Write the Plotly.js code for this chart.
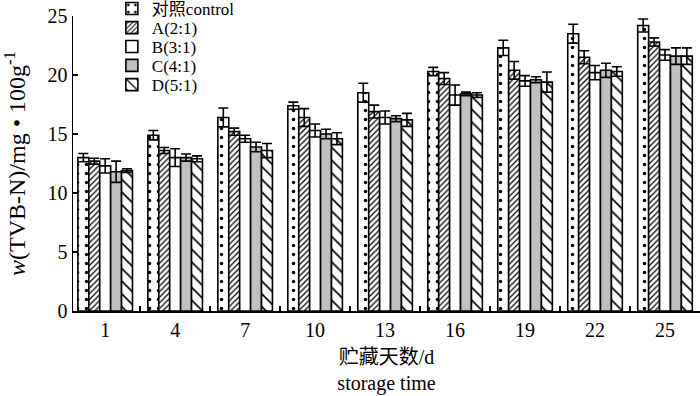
<!DOCTYPE html>
<html>
<head>
<meta charset="utf-8">
<script src="https://cdn.plot.ly/plotly-3.0.1.min.js"></script>
<style>body{margin:0;padding:0;background:#fff}#chart{width:700px;height:396px}</style>
</head>
<body>
<div id="chart"></div>
<script>
const days = ['1','4','7','10','13','16','19','22','25'];
const seriesNames = ['对照control','A(2:1)','B(3:1)','C(4:1)','D(5:1)'];
const control = [13.0, 14.9, 16.4, 17.4, 18.5, 20.3, 22.3, 23.5, 24.2];
const controlErr = [0.35, 0.4, 0.8, 0.3, 0.8, 0.35, 0.65, 0.8, 0.55];
const seriesA = [12.7, 13.6, 15.2, 16.4, 16.9, 19.7, 20.4, 21.5, 22.8];
const seriesAErr = [0.25, 0.25, 0.3, 0.75, 0.55, 0.5, 0.75, 0.55, 0.35];
const seriesB = [12.3, 13.0, 14.6, 15.3, 16.4, 18.3, 19.5, 20.2, 21.7];
const seriesBErr = [0.6, 0.75, 0.3, 0.55, 0.55, 0.85, 0.45, 0.6, 0.45];
const seriesC = [11.8, 13.0, 13.9, 15.0, 16.3, 18.4, 19.6, 20.4, 21.6];
const seriesCErr = [0.9, 0.3, 0.4, 0.4, 0.25, 0.15, 0.25, 0.6, 0.7];
const seriesD = [11.9, 12.9, 13.6, 14.6, 16.2, 18.3, 19.4, 20.3, 21.6];
const seriesDErr = [0.15, 0.25, 0.6, 0.5, 0.55, 0.2, 0.85, 0.4, 0.7];

const values = [control, seriesA, seriesB, seriesC, seriesD];
const errs = [controlErr, seriesAErr, seriesBErr, seriesCErr, seriesDErr];
const fills = ['white','white','white','#c0c0c0','white'];
const patterns = [
  {shape:'.', size:9, solidity:0.12, fgcolor:'black', bgcolor:'white'},
  {shape:'/', size:4, solidity:0.3, fgcolor:'black', bgcolor:'white'},
  {shape:''},
  {shape:''},
  {shape:'\\', size:9, solidity:0.18, fgcolor:'black', bgcolor:'white'}
];
const serif = 'Liberation Serif, Times New Roman, Noto Sans CJK SC, serif';
const legendKeys = ['legend','legend2','legend3','legend4','legend5'];
const legendY = [1.024, 0.959, 0.895, 0.831, 0.766];

const traces = values.map((v,i)=>({
  type:'bar', name:seriesNames[i], x:days, y:v, legend:legendKeys[i],
  marker:{color:fills[i], line:{color:'black', width:1.6}, pattern:patterns[i]},
  error_y:{type:'data', array:errs[i], visible:true, color:'black', thickness:1.6, width:5}
}));

const layout = {
  width:700, height:396,
  margin:{l:73, r:0, t:16, b:85, autoexpand:false},
  paper_bgcolor:'white', plot_bgcolor:'white',
  barmode:'group', bargap:0.22, bargroupgap:0,
  font:{family:serif, size:20, color:'black'},
  showlegend:true,
  xaxis:{type:'category', range:[-0.46, 8.5], showline:true, linecolor:'black', linewidth:1.5,
    ticks:'inside', tickson:'boundaries', ticklen:5, tickcolor:'black', tickwidth:1.5,
    showgrid:false, zeroline:false, tickfont:{family:serif, size:20}, automargin:false,
    title:{text:'贮藏天数/d<br>storage time', font:{family:serif, size:20}, standoff:10}},
  yaxis:{range:[0,25], tickvals:[0,5,10,15,20,25], showline:true, linecolor:'black', linewidth:1.5,
    ticks:'inside', ticklen:5, tickcolor:'black', tickwidth:1.5, showgrid:false, zeroline:false,
    tickfont:{family:serif, size:20}, automargin:false,
    title:{text:'<i>w</i>(TVB-N)/mg • 100g<sup>-1</sup>', font:{family:serif, size:24}, standoff:24}}
};
legendKeys.forEach((k,i)=>{
  layout[k] = {x:0.062, y:legendY[i], xanchor:'left', yanchor:'middle',
    bgcolor:'rgba(0,0,0,0)', font:{family:serif, size:17, color:'black'}, itemwidth:30};
});
Plotly.newPlot('chart', traces, layout, {displayModeBar:false, staticPlot:true});
</script>
</body>
</html>
